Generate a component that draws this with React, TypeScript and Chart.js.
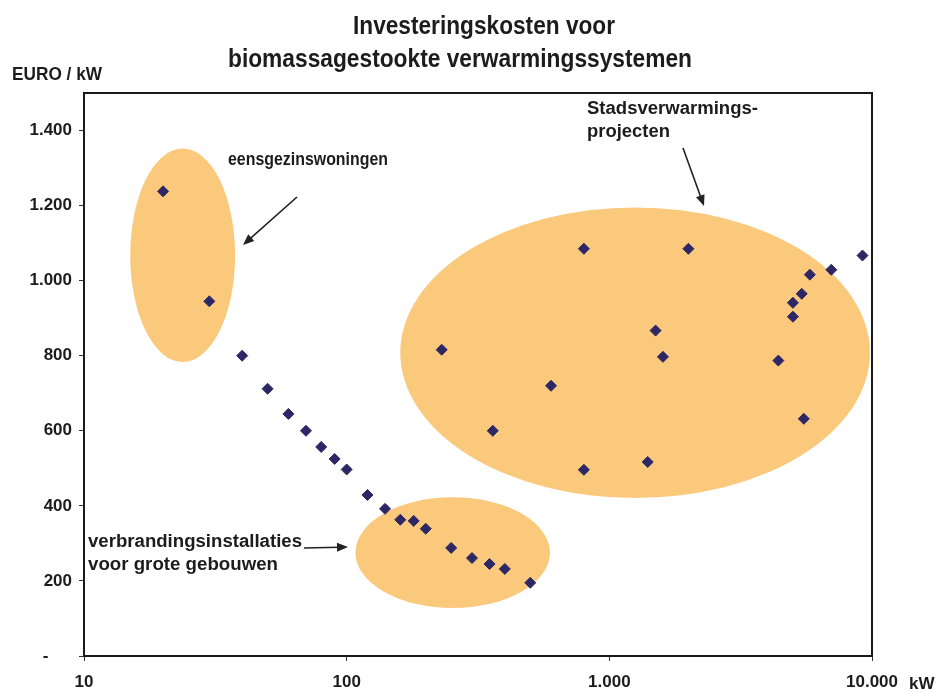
import { useEffect, useRef } from "react";
import { Chart, registerables } from "chart.js";

Chart.register(...registerables);

// ---- text ----
const titleLines = ["Investeringskosten voor", "biomassagestookte verwarmingssystemen"];
const yAxisTitle = "EURO / kW";
const xAxisUnit = "kW";
const labelHouses = ["eensgezinswoningen"];
const labelDistrict = ["Stadsverwarmings-", "projecten"];
const labelBuildings = ["verbrandingsinstallaties", "voor grote gebouwen"];

// ---- ticks ----
const xTickValues = [10, 100, 1000, 10000];
const xTickLabels = ["10", "100", "1.000", "10.000"];
const yTickValues = [0, 200, 400, 600, 800, 1000, 1200, 1400];
const yTickLabels = ["-\u00A0\u00A0\u00A0\u00A0\u00A0", "200", "400", "600", "800", "1.000", "1.200", "1.400"];

// ---- data (kW, EURO/kW) ----
const houseKW = [20, 30];
const houseCost = [1238, 945];

const buildingKW = [40, 50, 60, 70, 80, 90, 100, 120, 140, 160, 180, 200, 250, 300, 350, 400, 500];
const buildingCost = [800, 712, 645, 600, 557, 525, 497, 429, 392, 363, 360, 339, 288, 261, 245, 232, 195];

const districtKW = [230, 360, 600, 800, 800, 1400, 1500, 1600, 2000, 4400, 5000, 5000, 5400, 5500, 5800, 7000, 9200];
const districtCost = [816, 600, 720, 1085, 496, 517, 867, 797, 1085, 787, 941, 904, 965, 632, 1016, 1029, 1067];

// ---- highlighted regions (ellipses, in data units) ----
const regionKwMin = [15, 108, 160];
const regionKwMax = [37.6, 594, 9820];
const regionCostMin = [783, 128, 421];
const regionCostMax = [1352, 423, 1195];

const FONT = '"Liberation Sans", Arial, sans-serif';
const TEXT = "#1c1c1c";
const MARKER = "#2D2766";
const REGION = "#FBC97C";

function fitText(ctx: CanvasRenderingContext2D, text: string, x: number, y: number, size: number, width: number) {
  ctx.save();
  ctx.font = `bold ${size}px ${FONT}`;
  ctx.textAlign = "left";
  ctx.textBaseline = "alphabetic";
  ctx.fillStyle = TEXT;
  const w = ctx.measureText(text).width;
  ctx.translate(x, y);
  ctx.scale(width / w, 1);
  ctx.fillText(text, 0, 0);
  ctx.restore();
}

function arrow(ctx: CanvasRenderingContext2D, x1: number, y1: number, x2: number, y2: number) {
  const a = Math.atan2(y2 - y1, x2 - x1);
  const hl = 11, hw = 4.5;
  ctx.save();
  ctx.strokeStyle = "#222";
  ctx.fillStyle = "#222";
  ctx.lineWidth = 1.6;
  ctx.beginPath();
  ctx.moveTo(x1, y1);
  ctx.lineTo(x2 - Math.cos(a) * hl * 0.8, y2 - Math.sin(a) * hl * 0.8);
  ctx.stroke();
  ctx.beginPath();
  ctx.moveTo(x2, y2);
  ctx.lineTo(x2 - Math.cos(a) * hl - Math.sin(a) * hw, y2 - Math.sin(a) * hl + Math.cos(a) * hw);
  ctx.lineTo(x2 - Math.cos(a) * hl + Math.sin(a) * hw, y2 - Math.sin(a) * hl - Math.cos(a) * hw);
  ctx.closePath();
  ctx.fill();
  ctx.restore();
}

const toPoints = (xs: number[], ys: number[]) => xs.map((x, i) => ({ x, y: ys[i] }));

export default function App() {
  const ref = useRef<HTMLCanvasElement | null>(null);

  useEffect(() => {
    document.body.style.margin = "0";
    const canvas = ref.current;
    if (!canvas) return;

    const regionsPlugin = {
      id: "regions",
      beforeDatasetsDraw(chart: any) {
        const { ctx, scales } = chart;
        const xs = scales.x, ys = scales.y;
        ctx.save();
        ctx.fillStyle = REGION;
        for (let i = 0; i < regionKwMin.length; i++) {
          const l = xs.getPixelForValue(regionKwMin[i]);
          const r = xs.getPixelForValue(regionKwMax[i]);
          const t = ys.getPixelForValue(regionCostMax[i]);
          const b = ys.getPixelForValue(regionCostMin[i]);
          ctx.beginPath();
          ctx.ellipse((l + r) / 2, (t + b) / 2, (r - l) / 2, (b - t) / 2, 0, 0, Math.PI * 2);
          ctx.fill();
        }
        ctx.restore();
      },
    };

    const decorPlugin = {
      id: "decor",
      afterDraw(chart: any) {
        const { ctx, chartArea } = chart;
        // frame
        ctx.save();
        ctx.strokeStyle = "#1a1a1a";
        ctx.lineWidth = 2;
        ctx.strokeRect(chartArea.left, chartArea.top, chartArea.right - chartArea.left, chartArea.bottom - chartArea.top);
        ctx.restore();
        // title
        fitText(ctx, titleLines[0], 353, 34, 25, 262);
        fitText(ctx, titleLines[1], 228, 67, 25, 464);
        // axis captions
        fitText(ctx, yAxisTitle, 12, 80, 18, 90);
        ctx.save();
        ctx.font = `bold 17px ${FONT}`;
        ctx.fillStyle = TEXT;
        ctx.textBaseline = "alphabetic";
        ctx.fillText(xAxisUnit, 909, 689);
        ctx.restore();
        // annotations
        fitText(ctx, labelHouses[0], 228, 165, 18, 160);
        arrow(ctx, 297, 197, 243, 245);
        fitText(ctx, labelDistrict[0], 587, 114, 18, 171);
        fitText(ctx, labelDistrict[1], 587, 137, 18, 83);
        arrow(ctx, 683, 148, 704, 206);
        fitText(ctx, labelBuildings[0], 88, 547, 18, 214);
        fitText(ctx, labelBuildings[1], 88, 570, 18, 190);
        arrow(ctx, 304, 548, 348, 547);
      },
    };

    const ds = (data: { x: number; y: number }[]) => ({
      data,
      pointStyle: "rectRot" as const,
      pointRadius: 5.5,
      pointBackgroundColor: MARKER,
      pointBorderColor: MARKER,
      pointBorderWidth: 1,
      showLine: false,
    });

    const chart = new Chart(canvas, {
      type: "scatter",
      data: {
        datasets: [
          ds(toPoints(houseKW, houseCost)),
          ds(toPoints(buildingKW, buildingCost)),
          ds(toPoints(districtKW, districtCost)),
        ],
      },
      options: {
        animation: false,
        responsive: false,
        devicePixelRatio: 1,
        events: [],
        layout: { padding: { top: 93, right: 68, left: 0, bottom: 0 } },
        plugins: {
          legend: { display: false },
          title: { display: false },
          tooltip: { enabled: false },
        },
        scales: {
          x: {
            type: "logarithmic",
            min: 10,
            max: 10000,
            afterBuildTicks: (s: any) => {
              s.ticks = xTickValues.map((v) => ({ value: v }));
            },
            afterFit: (s: any) => {
              s.height = 37;
            },
            ticks: {
              autoSkip: false,
              maxRotation: 0,
              padding: 11,
              color: TEXT,
              font: { family: FONT, size: 17, weight: "bold" },
              callback: (_v: any, i: number) => xTickLabels[i],
            },
            grid: { drawOnChartArea: false, drawTicks: true, tickLength: 5, color: "#333" },
            border: { display: false },
          },
          y: {
            type: "linear",
            min: 0,
            max: 1500,
            afterBuildTicks: (s: any) => {
              s.ticks = yTickValues.map((v) => ({ value: v }));
            },
            afterFit: (s: any) => {
              s.width = 84;
            },
            ticks: {
              autoSkip: false,
              padding: 7,
              color: TEXT,
              font: { family: FONT, size: 17, weight: "bold" },
              callback: (_v: any, i: number) => yTickLabels[i],
            },
            grid: { drawOnChartArea: false, drawTicks: true, tickLength: 5, color: "#333" },
            border: { display: false },
          },
        },
      },
      plugins: [regionsPlugin, decorPlugin],
    } as any);

    return () => chart.destroy();
  }, []);

  return (
    <div style={{ width: 940, height: 693, background: "#fff" }}>
      <canvas ref={ref} width={940} height={693} style={{ display: "block", width: 940, height: 693 }} />
    </div>
  );
}
